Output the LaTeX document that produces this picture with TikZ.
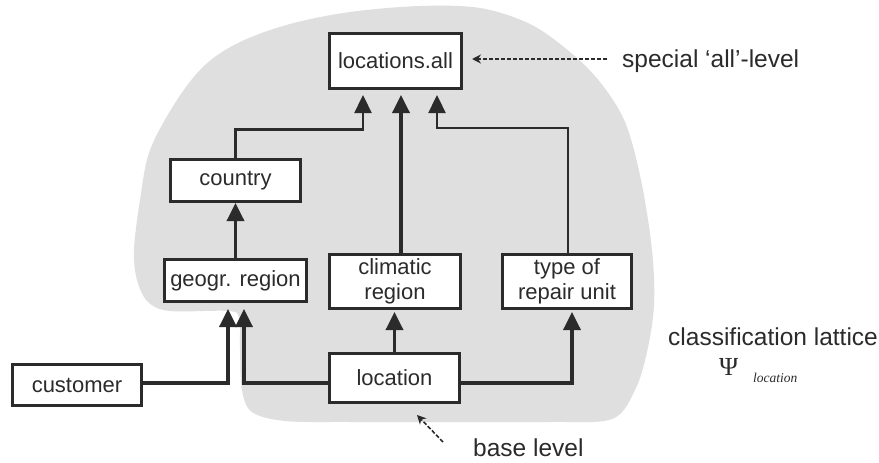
\documentclass[tikz,border=0pt]{standalone}
\usepackage{fontspec}
\setmainfont{Liberation Sans}
\newfontfamily\serifface{Liberation Serif}
\usetikzlibrary{arrows.meta,calc}

\definecolor{ink}{HTML}{2B2B2B}
\definecolor{blobgray}{HTML}{DFDFDF}

\begin{document}
\begin{tikzpicture}[x=1pt,y=-1pt,
  box/.style={draw=ink, line width=3pt, fill=white, inner sep=0pt, align=center,
              text=ink, font=\fontsize{22}{25}\selectfont},
  tip/.style={-{Triangle[width=17pt,length=18pt]}},
  thicklink/.style={draw=ink, line width=3.5pt, tip},
  thinlink/.style={draw=ink, line width=2.3pt, tip},
  note/.style={font=\fontsize{24.5}{27}\selectfont, inner sep=0pt, text=ink},
  pointer/.style={draw=ink, line width=1.6pt, dash pattern=on 4pt off 2pt,
                  -{Stealth[length=9pt,width=9pt]}},
]
% canvas
\useasboundingbox (0,0) rectangle (879,463);
\fill[white] (0,0) rectangle (879,463);

% shaded region of the classification lattice
\fill[blobgray] plot[smooth cycle, tension=0.55] coordinates {
  (177,100) (205,65) (240,42) (290,24) (350,12) (420,6) (480,8) (530,24)
  (570,52) (600,82) (625,122) (641,180) (652,250) (654,305) (647,352)
  (635,390) (612,419) (550,422) (450,422) (350,422) (285,421) (252,412)
  (242,390) (240,350) (239,318) (228,311) (170,311) (148,302) (137,280)
  (134,250) (140,200) (150,150)};

% category levels
\node[box, minimum width=132pt, minimum height=55pt] (all)      at (395.5,61)  {locations.all};
\node[box, minimum width=130pt, minimum height=42pt] (country)  at (235.5,180.5) {country};
\node[box, minimum width=142pt, minimum height=42pt] (geogr)    at (235.5,280.5) {geogr. region};
\node[box, minimum width=131pt, minimum height=54pt] (climatic) at (395,281.5) {climatic\\region};
\node[box, minimum width=129pt, minimum height=54pt] (type)     at (567,281.5) {type of\\repair unit};
\node[box, minimum width=130pt, minimum height=49pt] (location) at (394.5,378) {location};
\node[box, minimum width=129pt, minimum height=41pt] (customer) at (77,385)    {customer};

% classification edges
\draw[thinlink]  (country.north) -- ++(0,-28.5) -| ($(all.south)+(-32.5,5)$);
\draw[thicklink] ($(climatic.north)+(6,0)$) -- ($(all.south)+(5.5,5)$);
\draw[thinlink]  ($(type.north)+(1,0)$) -- ++(0,-125) -| ($(all.south)+(41.5,5)$);
\draw[thicklink] (geogr.north) -- (country.south);
\draw[thicklink] (location.north) -- ($(location.north |- climatic.south)+(0,2)$);
\draw[thicklink] ($(location.east)+(0,5)$) -| ($(type.south)+(5,2)$);
\draw[thicklink] ($(location.west)+(0,5)$) -| ($(geogr.south)+(8.5,6)$);
\draw[thicklink] ($(customer.east)+(0,-2)$) -| ($(geogr.south)+(-7.5,6)$);

% annotations
\node[note, anchor=base west] (special) at (622,67) {special ‘all’-level};
\coordinate (sptail) at (607,59);
\draw[pointer] (sptail) -- ($(all.east)+(9,-2)$);

\node[note, anchor=base west] (base) at (473,456) {base level};
\coordinate (basetail) at (443,442);
\draw[pointer] (basetail) -- ($(location.south)+(22.5,11)$);

\node[note, anchor=base west] (lattice) at (668,345) {classification lattice};
\node[anchor=base west, inner sep=0pt, text=ink,
      font=\serifface\fontsize{26}{28}\selectfont] (psi) at (719,375) {Ψ};
\node[anchor=base west, inner sep=0pt, text=ink,
      font=\serifface\itshape\fontsize{13.5}{15}\selectfont] (psisub) at (753,382) {location};
\end{tikzpicture}
\end{document}
